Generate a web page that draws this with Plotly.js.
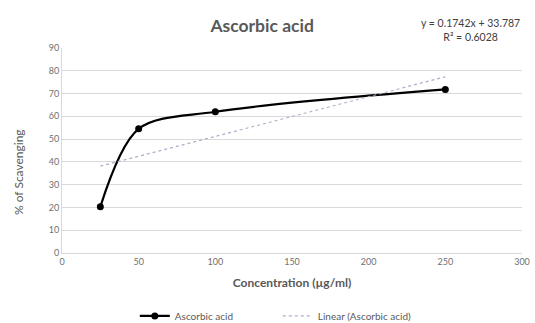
<!DOCTYPE html>
<html>
<head>
<meta charset="utf-8">
<script src="https://cdn.plot.ly/plotly-3.0.1.min.js"></script>
<style>html,body{margin:0;padding:0;background:#fff;}#chart{width:535px;height:323px;}</style>
</head>
<body>
<div id="chart"></div>
<script>
const concentration = [25, 50, 100, 250];
const scavenging = [20.3, 54.5, 62, 71.8];
const trendX = [25, 250];
const slope = 0.1742;
const intercept = 33.787;
const trendY = trendX.map(x => slope * x + intercept);
const xTicks = [0, 50, 100, 150, 200, 250, 300];
const yTicks = [0, 10, 20, 30, 40, 50, 60, 70, 80, 90];
const equationText = "y = 0.1742x + 33.787<br>R² = 0.6028";

const traces = [
  {
    x: concentration, y: scavenging, name: "Ascorbic acid",
    mode: "lines+markers", type: "scatter",
    line: {color: "#000000", width: 2.2, shape: "spline", smoothing: 0.9},
    marker: {color: "#000000", size: 7}
  },
  {
    x: trendX, y: trendY, name: "Linear (Ascorbic acid)",
    mode: "lines", type: "scatter",
    line: {color: "#aab0c8", width: 1.2, dash: "dot"}
  }
];

const layout = {
  width: 535, height: 323,
  margin: {l: 62, r: 13, t: 48, b: 70},
  paper_bgcolor: "#ffffff", plot_bgcolor: "#ffffff",
  font: {family: "Lato, 'Open Sans', sans-serif", color: "#595959", size: 9},
  title: {text: "<b>Ascorbic acid</b>", xref: "container", x: 0.49, xanchor: "center",
          yref: "container", y: 0.92, yanchor: "middle",
          font: {size: 17.5, color: "#595959", family: "Lato, 'Open Sans', sans-serif"}},
  xaxis: {
    range: [0, 300], tickvals: xTicks, ticktext: xTicks.map(String), automargin: false,
    showgrid: false, zeroline: false, showline: true, linecolor: "#d9d9d9", linewidth: 1,
    ticks: "", tickfont: {size: 9, color: "#6f6f6f"},
    title: {text: "<b>Concentration (µg/ml)</b>", font: {size: 12, color: "#595959"}, standoff: 12}
  },
  yaxis: {
    range: [0, 90], tickvals: yTicks, ticktext: yTicks.map(String), automargin: false,
    showgrid: true, gridcolor: "#d9d9d9", gridwidth: 1, zeroline: false,
    showline: true, linecolor: "#d9d9d9", linewidth: 1,
    ticks: "", tickfont: {size: 9, color: "#6f6f6f"}
  },
  legend: {orientation: "h", xref: "container", yref: "container", x: 0.252, xanchor: "left",
           y: 0.022, yanchor: "middle", entrywidth: 98, entrywidthmode: "pixels",
           font: {size: 10, color: "#595959"}},
  showlegend: true,
  annotations: [
    {
      text: equationText, xref: "paper", yref: "paper", x: 0.887, y: 1.088,
      xanchor: "center", yanchor: "middle", showarrow: false, align: "center",
      font: {size: 10.5, color: "#404040"}
    },
    {
      text: "% of Scavenging", xref: "paper", yref: "paper", x: -0.0957, y: 0.395,
      xanchor: "center", yanchor: "middle", showarrow: false, textangle: -90,
      font: {size: 12, color: "#595959"}
    }
  ]
};

Plotly.newPlot("chart", traces, layout, {displayModeBar: false, staticPlot: true});
</script>
</body>
</html>
